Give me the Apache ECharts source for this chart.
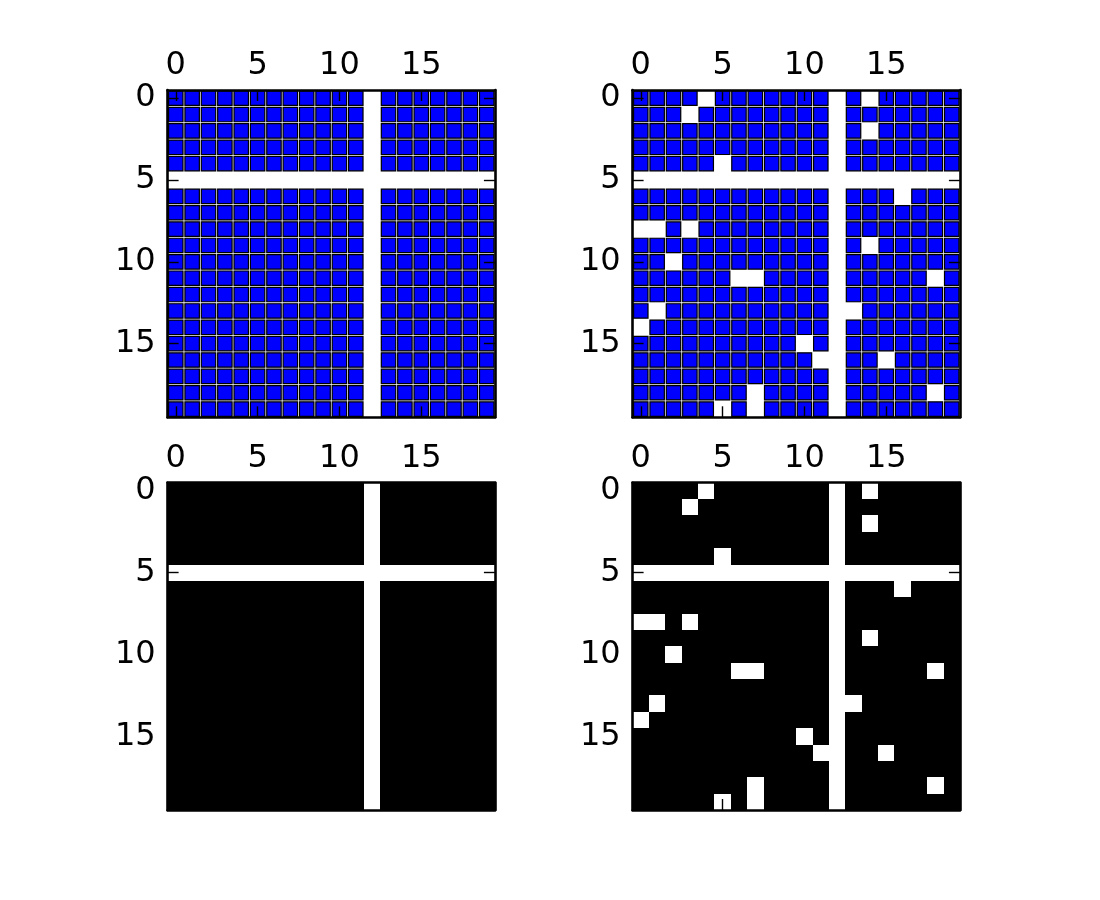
<!DOCTYPE html>
<html>
<head>
<meta charset="utf-8">
<script src="https://cdn.jsdelivr.net/npm/echarts@6/dist/echarts.min.js"></script>
<style>
html,body{margin:0;padding:0;background:#fff;}
#main{width:1100px;height:900px;}
</style>
</head>
<body>
<div id="main"></div>
<script>
// ---- data ----
const nRows = 20;
const nCols = 20;
const zeroRows = [5];          // rows that are entirely zero in both matrices
const zeroCols = [12];         // columns that are entirely zero in both matrices
// additional zero entries [row, col] in the second (right-hand) matrix
const extraZeros = [
  [0,4],[0,14],[1,3],[2,14],[4,5],[6,16],[8,0],[8,1],[8,3],[9,14],
  [10,2],[11,6],[11,7],[11,18],[13,1],[13,13],[14,0],[15,10],[16,11],
  [16,15],[18,7],[18,18],[19,5],[19,7]
];
const tickLabels = ['0','5','10','15'];

const cats = [];
for (let i = 0; i < nCols; i++) cats.push(String(i));

function nonZeros(withExtra) {
  const ex = new Set(withExtra ? extraZeros.map(d => d[0] + ',' + d[1]) : []);
  const out = [];
  for (let r = 0; r < nRows; r++) {
    if (zeroRows.includes(r)) continue;
    for (let c = 0; c < nCols; c++) {
      if (zeroCols.includes(c)) continue;
      if (ex.has(r + ',' + c)) continue;
      out.push([c, r]);
    }
  }
  return out;
}
const dataA = nonZeros(false);
const dataB = nonZeros(true);

// ---- layout ----
const S = 327.3;
const grids = [
  {left: 167.6, top: 90, width: S, height: S},
  {left: 632.6, top: 90, width: S, height: S},
  {left: 167.6, top: 482.7, width: S, height: S},
  {left: 632.6, top: 482.7, width: S, height: S}
];

const FONT = 'DejaVu Sans';
const xAxes = [], yAxes = [];
grids.forEach((g, gi) => {
  const common = {
    type: 'category', data: cats, gridIndex: gi, z: 10,
    axisLine: {show: true, lineStyle: {color: '#000', width: 2.6}},
    axisTick: {show: true, inside: true, length: 11, interval: 4, alignWithLabel: true,
               lineStyle: {color: '#000', width: 1.4}},
    splitLine: {show: false}
  };
  xAxes.push(Object.assign({}, common, {
    position: 'top',
    axisLabel: {show: true, interval: 4, margin: 8, fontSize: 32, fontFamily: FONT, color: '#000',
                formatter: v => tickLabels.includes(v) ? v : ''}
  }));
  xAxes.push(Object.assign({}, common, {
    position: 'bottom', axisLabel: {show: false}
  }));
  yAxes.push(Object.assign({}, common, {
    position: 'left', inverse: true,
    axisLabel: {show: true, interval: 4, margin: 12, fontSize: 32, fontFamily: FONT, color: '#000',
                formatter: v => tickLabels.includes(v) ? v : ''}
  }));
  yAxes.push(Object.assign({}, common, {
    position: 'right', inverse: true, axisLabel: {show: false}
  }));
});

function markerItem(params, api) {
  const p = api.coord([api.value(0), api.value(1)]);
  const s = api.size([1, 1]);
  const m = 14.4;
  return {
    type: 'group',
    children: [
      {type: 'rect', shape: {x: p[0] - s[0] / 2 + 0.4, y: p[1] - s[1] / 2 + 0.4, width: s[0] - 0.8, height: s[1] - 0.8},
       style: {fill: '#dddddd'}},
      {type: 'rect', shape: {x: p[0] - m / 2, y: p[1] - m / 2, width: m, height: m},
       style: {fill: '#0000ff', stroke: '#000', lineWidth: 1.2}}
    ]
  };
}
function cellItem(params, api) {
  const p = api.coord([api.value(0), api.value(1)]);
  const s = api.size([1, 1]);
  const x0 = Math.round(p[0] - s[0] / 2), x1 = Math.round(p[0] + s[0] / 2);
  const y0 = Math.round(p[1] - s[1] / 2), y1 = Math.round(p[1] + s[1] / 2);
  return {
    type: 'rect',
    shape: {x: x0, y: y0, width: x1 - x0, height: y1 - y0},
    style: {fill: '#000'}
  };
}

const series = [
  {type: 'custom', xAxisIndex: 0, yAxisIndex: 0, renderItem: markerItem, data: dataA, silent: true},
  {type: 'custom', xAxisIndex: 2, yAxisIndex: 2, renderItem: markerItem, data: dataB, silent: true},
  {type: 'custom', xAxisIndex: 4, yAxisIndex: 4, renderItem: cellItem, data: dataA, silent: true},
  {type: 'custom', xAxisIndex: 6, yAxisIndex: 6, renderItem: cellItem, data: dataB, silent: true}
];

const chart = echarts.init(document.getElementById('main'), null, {renderer: 'canvas'});
chart.setOption({
  backgroundColor: '#fff',
  animation: false,
  grid: grids,
  xAxis: xAxes,
  yAxis: yAxes,
  series: series
});
</script>
</body>
</html>
